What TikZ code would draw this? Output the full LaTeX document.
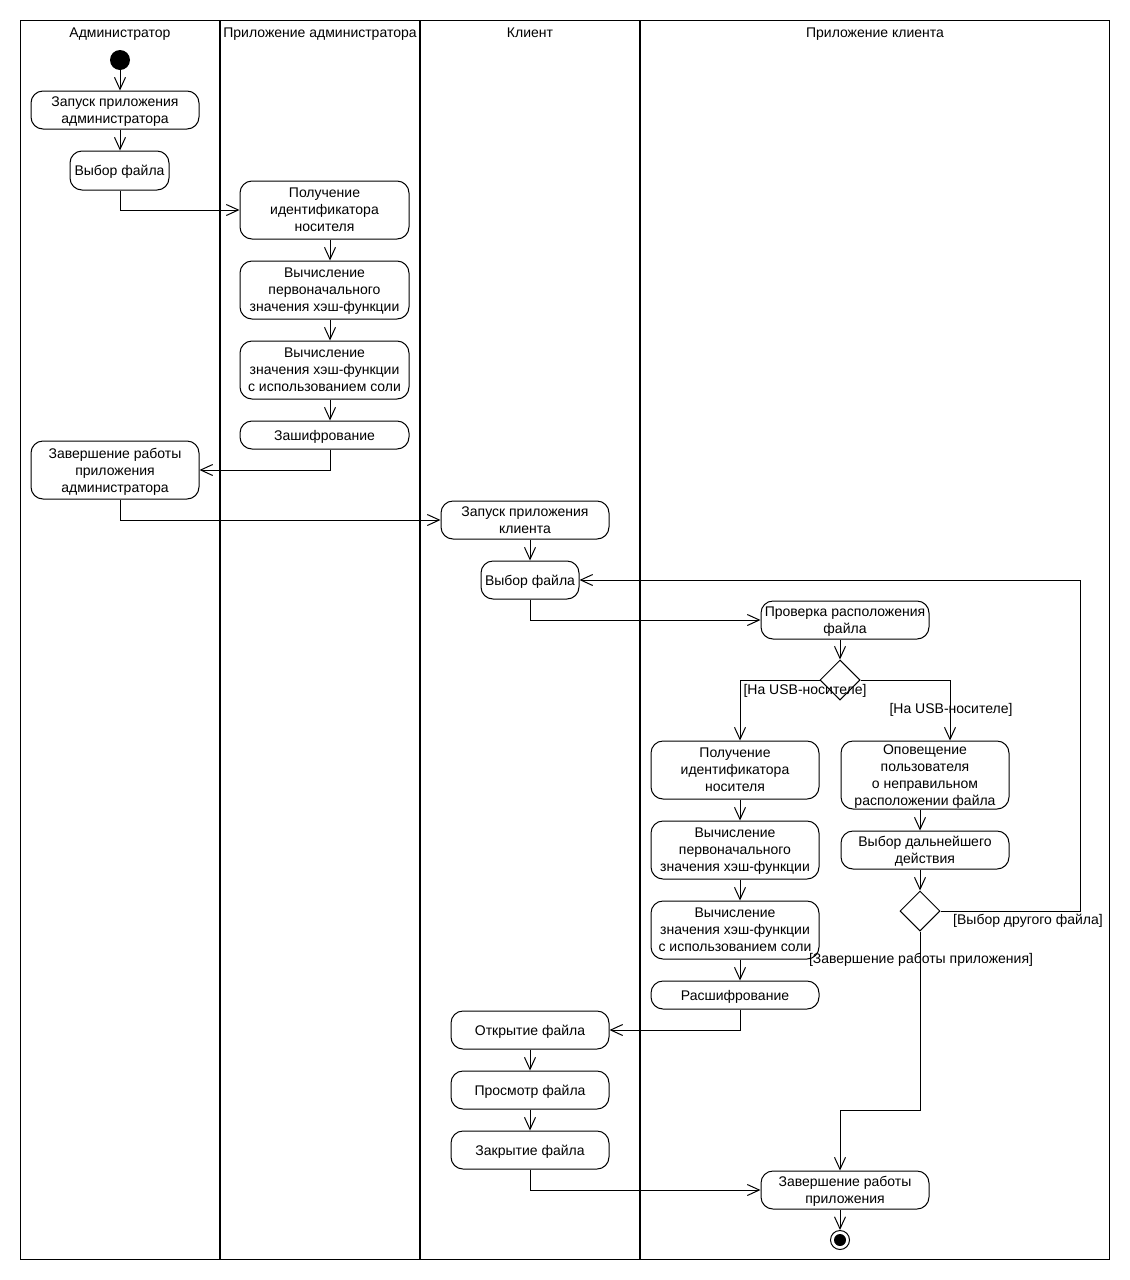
\documentclass[tikz,border=0pt]{standalone}
\usepackage{fontspec}
\setmainfont{Liberation Sans}
\usetikzlibrary{arrows.meta,shapes.geometric}
\begin{document}
\begin{tikzpicture}[x=1pt,y=-1pt,
  every node/.style={font=\fontsize{14}{17}\selectfont},
  act/.style={draw,line width=1pt,rounded corners=12pt,align=center,inner sep=0pt,text depth=-2pt},
  tri/.style={text depth=-4pt},
  head/.style={anchor=base},
  arr/.style={line width=1pt,-{Straight Barb[length=12pt,width=11pt,line width=1pt]}},
  lane/.style={line width=2pt},
  guard/.style={inner sep=0pt}
]
\useasboundingbox (0,0) rectangle (1130,1280);
\fill[white] (0,0) rectangle (1130,1280);
% swimlanes
\draw[line width=1pt] (20,20) rectangle (1109,1259);
\draw[lane] (220,20) -- (220,1259);
\draw[lane] (420,20) -- (420,1259);
\draw[lane] (640,20) -- (640,1259);
\node[head] (h1) at (120,37.5) {Администратор};
\node[head] (h2) at (320,37.5) {Приложение администратора};
\node[head] (h3) at (530,37.5) {Клиент};
\node[head] (h4t) at (875,37.5) {Приложение клиента};
% columns
\coordinate (colA) at (120,0);
\coordinate (colB) at (330,0);
\coordinate (colC) at (530,0);
\coordinate (colD) at (840,0);
\coordinate (colE) at (740,0);
\coordinate (colF) at (950,0);
\coordinate (colG) at (920,0);
\coordinate (loopR) at (1080,0);
\coordinate (jn) at (840,1110);
% admin
\node[circle,fill=black,minimum size=20pt,inner sep=0pt] (start) at (120,60) {};
\node[act,minimum width=168pt,minimum height=38pt] (a1) at (115,110) {Запуск приложения\\администратора};
\node[act,minimum width=99pt,minimum height=39pt] (a2) at (119.5,170.5) {Выбор файла};
\node[act,tri,minimum width=168pt,minimum height=58pt] (a3) at (115,470) {Завершение работы\\приложения\\администратора};
% admin app
\node[act,tri,minimum width=169pt,minimum height=58pt] (b1) at (324.5,210) {Получение\\идентификатора\\носителя};
\node[act,tri,minimum width=169pt,minimum height=58pt] (b2) at (324.5,290) {Вычисление\\первоначального\\значения хэш-функции};
\node[act,tri,minimum width=169pt,minimum height=58pt] (b3) at (324.5,370) {Вычисление\\значения хэш-функции\\с использованием соли};
\node[act,minimum width=169pt,minimum height=28pt] (b4) at (324.5,435) {Зашифрование};
% client
\node[act,minimum width=168pt,minimum height=38pt] (c1) at (525,520) {Запуск приложения\\клиента};
\node[act,minimum width=98pt,minimum height=38pt] (c2) at (530,580) {Выбор файла};
\node[act,minimum width=158pt,minimum height=38pt] (g1) at (530,1030) {Открытие файла};
\node[act,minimum width=158pt,minimum height=38pt] (g2) at (530,1090) {Просмотр файла};
\node[act,minimum width=158pt,minimum height=38pt] (g3) at (530,1150) {Закрытие файла};
% client app
\node[act,minimum width=168pt,minimum height=38pt] (d1) at (845,620) {Проверка расположения\\файла};
\node[draw,line width=1pt,diamond,minimum width=40pt,minimum height=40pt,inner sep=0pt] (dia1) at (840,680) {};
\node[act,tri,minimum width=168pt,minimum height=58pt] (e1) at (735,770) {Получение\\идентификатора\\носителя};
\node[act,tri,minimum width=168pt,minimum height=58pt] (e2) at (735,850) {Вычисление\\первоначального\\значения хэш-функции};
\node[act,tri,minimum width=168pt,minimum height=58pt] (e3) at (735,930) {Вычисление\\значения хэш-функции\\с использованием соли};
\node[act,minimum width=168pt,minimum height=28pt] (e4) at (735,995) {Расшифрование};
\node[act,minimum width=168pt,minimum height=68pt] (f1) at (925,775) {Оповещение\\пользователя\\о неправильном\\расположении файла};
\node[act,minimum width=168pt,minimum height=38pt] (f2) at (925,850) {Выбор дальнейшего\\действия};
\node[draw,line width=1pt,diamond,minimum width=40pt,minimum height=40pt,inner sep=0pt] (dia2) at (920,911) {};
\node[act,minimum width=168pt,minimum height=38pt] (h4) at (845,1190) {Завершение работы\\приложения};
\node[circle,draw,line width=1pt,minimum size=19pt,inner sep=0pt] (fin) at (840,1240) {};
\node[circle,fill=black,minimum size=12pt,inner sep=0pt] (fininner) at (840,1240) {};
% guards
\node[guard] (gl1) at (805,690.5) {[На USB-носителе]};
\node[guard] (gl2) at (951,709.5) {[На USB-носителе]};
\node[guard] (gl3) at (1028,920.5) {[Выбор другого файла]};
\node[guard] (gl4) at (921,959.5) {[Завершение работы приложения]};
% flows
\draw[arr] (start.south) -- (a1.north -| colA);
\draw[arr] (a1.south -| colA) -- (a2.north -| colA);
\draw[arr] (a2.south -| colA) |- (b1.west);
\draw[arr] (b1.south -| colB) -- (b2.north -| colB);
\draw[arr] (b2.south -| colB) -- (b3.north -| colB);
\draw[arr] (b3.south -| colB) -- (b4.north -| colB);
\draw[arr] (b4.south -| colB) |- (a3.east);
\draw[arr] (a3.south -| colA) |- (c1.west);
\draw[arr] (c1.south -| colC) -- (c2.north -| colC);
\draw[arr] (c2.south -| colC) |- (d1.west);
\draw[arr] (d1.south -| colD) -- (dia1.north);
\draw[arr] (dia1.west) -| (e1.north -| colE);
\draw[arr] (dia1.east) -| (f1.north -| colF);
\draw[arr] (e1.south -| colE) -- (e2.north -| colE);
\draw[arr] (e2.south -| colE) -- (e3.north -| colE);
\draw[arr] (e3.south -| colE) -- (e4.north -| colE);
\draw[arr] (e4.south -| colE) |- (g1.east);
\draw[arr] (g1.south -| colC) -- (g2.north -| colC);
\draw[arr] (g2.south -| colC) -- (g3.north -| colC);
\draw[arr] (g3.south -| colC) |- (h4.west);
\draw[arr] (f1.south -| colG) -- (f2.north -| colG);
\draw[arr] (f2.south -| colG) -- (dia2.north);
\draw[arr] (dia2.east) -- (dia2.east -| loopR) |- (c2.east);
\draw[arr] (dia2.south) |- (jn) -- (h4.north -| jn);
\draw[arr] (h4.south -| colD) -- (fin.north);
\end{tikzpicture}
\end{document}
